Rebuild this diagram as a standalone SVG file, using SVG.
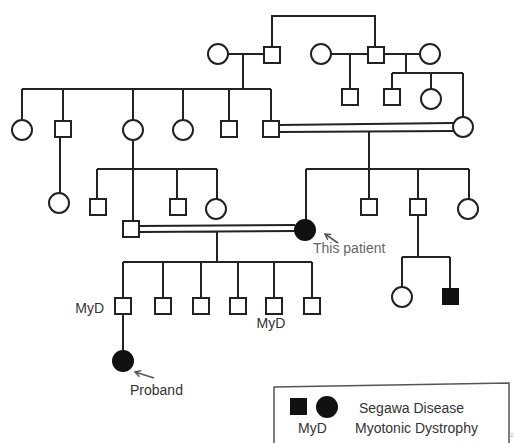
<svg xmlns="http://www.w3.org/2000/svg" width="514" height="443" viewBox="0 0 514 443">
<defs>
<style>
.n{fill:#fff;stroke:#222;stroke-width:2}
.a{fill:#111;stroke:#111;stroke-width:2}
.c{fill:none;stroke:#222;stroke-width:2}
.t{font-family:"Liberation Sans",Arial,sans-serif;font-size:14px;fill:#333}
.g{fill:#666}
.arr{fill:none;stroke:#555;stroke-width:1.6}
</style>
<marker id="ah" viewBox="0 0 10 10" refX="9" refY="5" markerWidth="8" markerHeight="8" orient="auto" markerUnits="userSpaceOnUse">
<path d="M2,1 L9,5 L2,9" fill="none" stroke="#555" stroke-width="1.8"/>
</marker>
</defs>
<rect width="514" height="443" fill="#fff"/>
<g id="connectors">
<path class="c" d="M272,47 V16 H375 V47"/>
<path class="c" d="M228,54 H264 M243,54 V89"/>
<path class="c" d="M22,89 H271 M22,89 V120 M63,89 V121 M133,89 V120 M183,89 V120 M229,89 V121 M271,89 V121"/>
<path class="c" d="M331,54 H368 M350,54 V89"/>
<path class="c" d="M384,54 H420 M406,54 V73 M392,73 H463 M392,73 V89 M431,73 V89 M463,73 V117"/>
<path class="c" d="M279,125 L453,123 M279,132 L453,131 M369,131 V169"/>
<path class="c" d="M306,169 H469 M306,169 V220 M369,169 V199 M418,169 V199 M469,169 V199"/>
<path class="c" d="M60,137 V193"/>
<path class="c" d="M133,140 V221 M97,169 H217 M97,169 V199 M177,169 V199 M217,169 V199"/>
<path class="c" d="M139,226 L295,225 M139,232 L295,231 M217,232 V262"/>
<path class="c" d="M123,262 H312 M123,262 V298 M163,262 V298 M201,262 V298 M238,262 V298 M274,262 V298 M312,262 V298"/>
<path class="c" d="M123,315 V351"/>
<path class="c" d="M418,215 V257 M402,257 H450 M402,257 V287 M450,257 V289"/>
</g>
<g id="I1"><circle class="n" cx="218" cy="54" r="10"/></g>
<g id="I2"><rect class="n" x="264" y="47" width="16" height="16"/></g>
<g id="I3"><circle class="n" cx="321" cy="54" r="10"/></g>
<g id="I4"><rect class="n" x="368" y="47" width="16" height="16"/></g>
<g id="I5"><circle class="n" cx="430" cy="54" r="10"/></g>
<g id="II1"><rect class="n" x="342" y="89" width="16" height="16"/></g>
<g id="II2"><rect class="n" x="384" y="89" width="16" height="16"/></g>
<g id="II3"><circle class="n" cx="431" cy="99" r="10"/></g>
<g id="II4"><circle class="n" cx="463" cy="127" r="10"/></g>
<g id="II5"><circle class="n" cx="22" cy="130" r="10"/></g>
<g id="II6"><rect class="n" x="55" y="121" width="16" height="16"/></g>
<g id="II7"><circle class="n" cx="133" cy="130" r="10"/></g>
<g id="II8"><circle class="n" cx="183" cy="130" r="10"/></g>
<g id="II9"><rect class="n" x="221" y="121" width="16" height="16"/></g>
<g id="II10"><rect class="n" x="263" y="121" width="16" height="16"/></g>
<g id="III1"><circle class="n" cx="59" cy="203" r="10"/></g>
<g id="III2"><rect class="n" x="90" y="199" width="16" height="16"/></g>
<g id="III3"><rect class="n" x="123" y="221" width="16" height="16"/></g>
<g id="III4"><rect class="n" x="170" y="199" width="16" height="16"/></g>
<g id="III5"><circle class="n" cx="216" cy="209" r="10"/></g>
<g id="III6"><circle class="a" cx="305" cy="230" r="10"/>
<path class="arr" d="M338,243 L325,234" marker-end="url(#ah)"/>
<text class="t g" x="313" y="253">This patient</text></g>
<g id="III7"><rect class="n" x="361" y="199" width="16" height="16"/></g>
<g id="III8"><rect class="n" x="410" y="199" width="16" height="16"/></g>
<g id="III9"><circle class="n" cx="468" cy="209" r="10"/></g>
<g id="IV1"><rect class="n" x="115" y="298" width="16" height="16"/>
<text class="t" x="104" y="313" text-anchor="end">MyD</text></g>
<g id="IV2"><rect class="n" x="155" y="298" width="16" height="16"/></g>
<g id="IV3"><rect class="n" x="193" y="298" width="16" height="16"/></g>
<g id="IV4"><rect class="n" x="230" y="298" width="16" height="16"/></g>
<g id="IV5"><rect class="n" x="266" y="298" width="16" height="16"/>
<text class="t" x="271" y="328" text-anchor="middle">MyD</text></g>
<g id="IV6"><rect class="n" x="304" y="298" width="16" height="16"/></g>
<g id="IV7"><circle class="n" cx="402" cy="297" r="10"/></g>
<g id="IV8"><rect class="a" x="443" y="289" width="15" height="15"/></g>
<g id="V1"><circle class="a" cx="123" cy="361" r="10"/>
<path class="arr" d="M154,378 L135,372" marker-end="url(#ah)"/>
<text class="t" x="130" y="395">Proband</text></g>
<g id="legend">
<path d="M274,443 V387 L509,383 V443" fill="none" stroke="#555" stroke-width="1.5"/>
<rect x="290" y="398" width="17" height="17" fill="#111"/>
<circle cx="327" cy="407" r="11" fill="#111"/>
<text class="t" x="359" y="413">Segawa Disease</text>
<text class="t" x="298" y="433">MyD</text>
<text class="t" x="355" y="433">Myotonic Dystrophy</text>
<text x="510" y="437" font-family="Liberation Sans,Arial,sans-serif" font-size="6" fill="#aaa">2</text>
</g>
</svg>
